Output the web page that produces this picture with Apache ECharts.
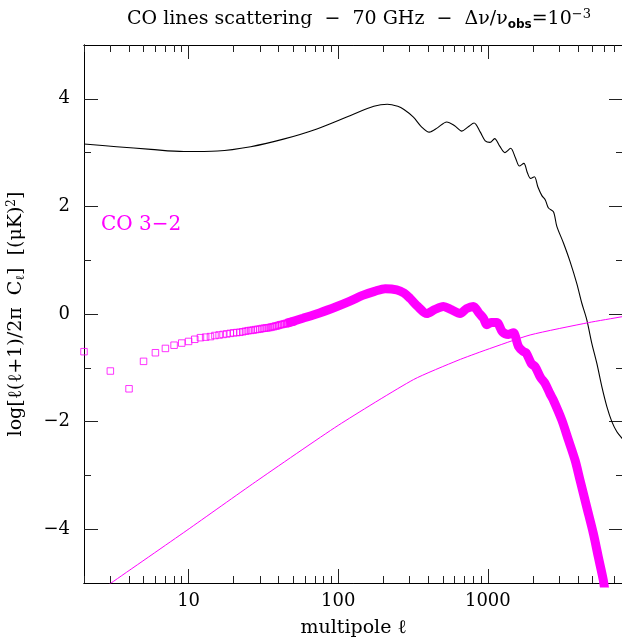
<!DOCTYPE html>
<html><head><meta charset="utf-8">
<script src="https://cdn.jsdelivr.net/npm/echarts@6/dist/echarts.min.js"></script>
<style>html,body{margin:0;padding:0;background:#fff}#c{width:622px;height:640px}</style>
</head><body><div id="c"></div>
<script>
// total CMB-like spectrum (black)
const blackL = [2,3.3,5.6,9.3,15.6,26,43,72,121,173,213,250,275,318,360,406,460,531,600,669,740,809,890,960,1033,1110,1200,1300,1420,1530,1626,1740,1840,1930,2046,2160,2296,2420,2541,2743,2890,3200,3548,3926,4246,4584,4955,5350,5776,6240,6740,7280,7890,8000];
const blackV = [3.16,3.11,3.06,3.02,3.03,3.11,3.25,3.44,3.69,3.86,3.90,3.86,3.80,3.66,3.48,3.38,3.46,3.57,3.50,3.40,3.48,3.55,3.38,3.22,3.19,3.26,3.12,3.00,3.08,2.90,2.75,2.80,2.62,2.52,2.55,2.36,2.20,2.12,1.97,1.90,1.63,1.32,0.97,0.57,0.20,-0.11,-0.55,-0.92,-1.35,-1.72,-2.00,-2.19,-2.31,-2.33];
// thin magenta line
const thinL = [2,3,9.75,28,100,318,632,966,1916,4710,7890,8000];
const thinV = [-5.35,-5.01,-4.02,-3.12,-2.07,-1.22,-0.86,-0.67,-0.39,-0.16,-0.05,-0.04];
// CO 3-2 squares (low multipoles)
const sqL = [2,3,4,5,6,7,8,9,10,11,12,13,14,15,16,17,18,19,20,21,22,23,24,25,26,27,28,29,30,31,32,33,34,35,36,37,38,39,40,41,42,43,44,45,46,47,48,49,50];
const sqV = [-0.70,-1.06,-1.39,-0.88,-0.72,-0.64,-0.58,-0.54,-0.51,-0.47,-0.44,-0.43,-0.42,-0.40,-0.39,-0.38,-0.37,-0.36,-0.35,-0.345,-0.34,-0.33,-0.32,-0.31,-0.305,-0.30,-0.29,-0.285,-0.28,-0.27,-0.265,-0.26,-0.255,-0.25,-0.24,-0.235,-0.225,-0.22,-0.21,-0.20,-0.195,-0.19,-0.18,-0.175,-0.17,-0.16,-0.155,-0.15,-0.14];
// CO 3-2 dense part (squares merge into a band)
const bandL = [45,58,75,98,120,147,175,206,246,275,302,340,391,440,505,570,652,720,800,870,934,984,1050,1148,1250,1372,1480,1600,1729,1800,1950,2070,2250,2412,2600,2740,3119,3453,3828,4131,4580,5070,5475,5910,6150];
const bandV = [-0.175,-0.08,0.02,0.14,0.24,0.35,0.42,0.47,0.45,0.39,0.29,0.14,0.01,0.08,0.14,0.08,0.01,0.10,0.14,0.02,-0.08,-0.20,-0.16,-0.16,-0.33,-0.38,-0.35,-0.60,-0.70,-0.72,-0.92,-0.98,-1.18,-1.29,-1.48,-1.60,-1.97,-2.34,-2.72,-3.09,-3.59,-4.08,-4.52,-4.95,-5.3];
const xMajorTicks = [10,100,1000];
const xMinorTicks = [2,3,4,5,6,7,8,9,20,30,40,50,60,70,80,90,200,300,400,500,600,700,800,900,2000,3000,4000,5000,6000,7000,8000];
const yMajorTicks = [-4,-2,0,2,4];
const yMinorTicks = [-3,-1,1,3];

const FONT = 'DejaVu Serif';
const MAG = '#ff00ff';
const zip = (a,b) => a.map((v,i)=>[v,b[i]]);

function xAx(pos, ticks, len, labels, extra) {
  return Object.assign({
    type:'log', logBase:10, min:2, max:8000, position:pos, gridIndex:0,
    axisLine:{show:true, onZero:false, lineStyle:{color:'#000', width:1}},
    axisTick:{show:true, inside:true, length:len, customValues:ticks, lineStyle:{color:'#222', width:1}},
    axisLabel:{show:labels, customValues:ticks, margin:9, color:'#000', fontFamily:FONT, fontSize:18,
      formatter: v => String(Math.round(v))},
    splitLine:{show:false}, minorTick:{show:false}, minorSplitLine:{show:false}
  }, extra||{});
}
function yAx(pos, ticks, len, labels, extra) {
  return Object.assign({
    type:'value', min:-5, max:5, position:pos, gridIndex:0,
    axisLine:{show:true, onZero:false, lineStyle:{color:'#000', width:1}},
    axisTick:{show:true, inside:true, length:len, customValues:ticks, lineStyle:{color:'#222', width:1}},
    axisLabel:{show:labels, customValues:ticks, margin:14, color:'#000', fontFamily:FONT, fontSize:18,
      formatter: v => v < 0 ? '\u2212' + Math.abs(v) : String(v)},
    splitLine:{show:false}
  }, extra||{});
}

const chart = echarts.init(document.getElementById('c'), null, {renderer:'canvas'});
chart.setOption({
  animation:false,
  backgroundColor:'#fff',
  title:{
    left:122, top:3,
    text:'{a|CO lines scattering  \u2212  70 GHz  \u2212  \u0394\u03bd/\u03bd}{s|obs}{a|=10}{p|\u22123}',
    textStyle:{fontWeight:'normal', rich:{
      a:{fontFamily:FONT, fontSize:19, fontWeight:'normal', color:'#000'},
      s:{fontFamily:'DejaVu Sans', fontSize:12, fontWeight:'bold', color:'#000', padding:[11,0,0,0]},
      p:{fontFamily:FONT, fontSize:13, fontWeight:'normal', color:'#000', padding:[0,0,10,0]}
    }}
  },
  grid:{left:84, right:-1, top:45, bottom:57, containLabel:false, outerBoundsMode:'none'},
  xAxis:[
    xAx('bottom', xMajorTicks, 14, true, {name:'multipole \u2113', nameLocation:'middle', nameGap:36,
      nameTextStyle:{fontFamily:FONT, fontSize:19, color:'#000'}}),
    xAx('bottom', xMinorTicks, 7, false),
    xAx('top', xMajorTicks, 14, false),
    xAx('top', xMinorTicks, 7, false)
  ],
  yAxis:[
    yAx('left', yMajorTicks, 14, true, {name:'{a|log[\u2113(\u2113+1)/2\u03c0  C}{s|\u2113}{a|]  [(\u03bcK)}{p|2}{a|]}',
      nameLocation:'middle', nameRotate:90, nameGap:57,
      nameTextStyle:{rich:{
        a:{fontFamily:FONT, fontSize:19, color:'#000'},
        s:{fontFamily:FONT, fontSize:12, color:'#000', padding:[9,0,0,0]},
        p:{fontFamily:FONT, fontSize:12, color:'#000', padding:[0,0,9,0]}
      }}}),
    yAx('left', yMinorTicks, 7, false),
    yAx('right', yMajorTicks, 14, false),
    yAx('right', yMinorTicks, 7, false)
  ],
  graphic:[{
    type:'text', left:101, top:215,
    style:{text:'CO 3\u22122', fill:MAG, font:'20px "DejaVu Serif"'}
  }],
  series:[
    {type:'line', name:'total', data:zip(blackL,blackV), xAxisIndex:0, yAxisIndex:0, showSymbol:false, symbol:'none',
      smooth:0.3, lineStyle:{color:'#000', width:1.1}, clip:true},
    {type:'line', name:'thin', data:zip(thinL,thinV), xAxisIndex:0, yAxisIndex:0, symbol:'none',
      smooth:0.2, lineStyle:{color:MAG, width:1}, clip:true},
    {type:'line', name:'CO 3-2 band', data:zip(bandL,bandV), xAxisIndex:0, yAxisIndex:0, symbol:'none',
      smooth:0.3, lineStyle:{color:MAG, width:9}, clip:true},
    {type:'scatter', name:'CO 3-2', data:zip(sqL,sqV), xAxisIndex:0, yAxisIndex:0, symbol:'rect', symbolSize:6.5,
      itemStyle:{color:'rgba(255,0,255,0)', borderColor:MAG, borderWidth:1}, clip:false}
  ]
});
</script></body></html>
